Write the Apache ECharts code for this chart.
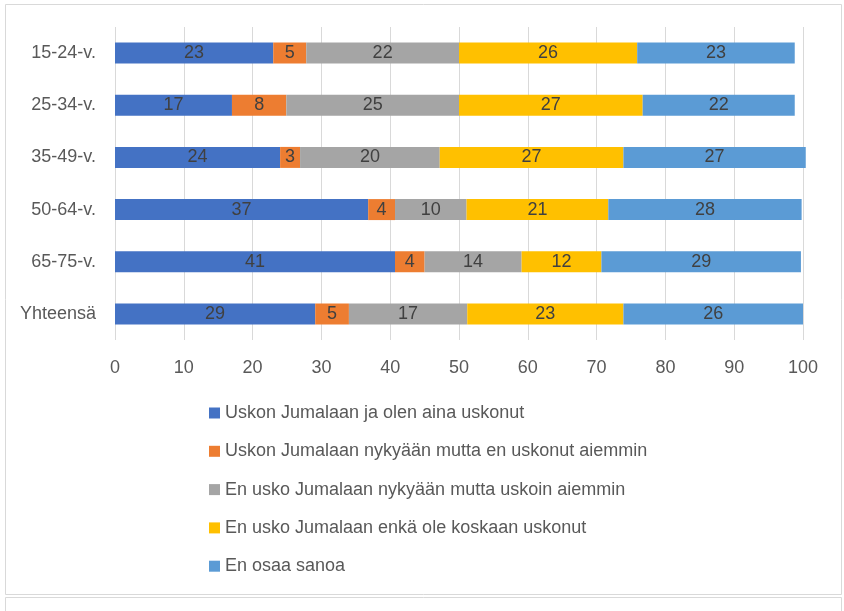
<!DOCTYPE html>
<html>
<head>
<meta charset="utf-8">
<script src="https://cdn.jsdelivr.net/npm/echarts@6/dist/echarts.min.js"></script>
<style>html,body{margin:0;padding:0;background:#fff;}#c{width:844px;height:611px;}</style>
</head>
<body>
<div id="c"></div>
<script>
var categories = ['15-24-v.', '25-34-v.', '35-49-v.', '50-64-v.', '65-75-v.', 'Yhteensä'];
var seriesNames = [
  'Uskon Jumalaan ja olen aina uskonut',
  'Uskon Jumalaan nykyään mutta en uskonut aiemmin',
  'En usko Jumalaan nykyään mutta uskoin aiemmin',
  'En usko Jumalaan enkä ole koskaan uskonut',
  'En osaa sanoa'
];
var alwaysBelieved = [23.0, 17.0, 24.0, 36.8, 40.7, 29.1];
var believeNow = [4.8, 7.9, 2.9, 3.9, 4.3, 4.9];
var believedBefore = [22.2, 25.1, 20.3, 10.4, 14.1, 17.2];
var neverBelieved = [25.9, 26.7, 26.7, 20.6, 11.6, 22.7];
var cannotSay = [22.9, 22.1, 26.5, 28.1, 29.0, 26.1];
var xTicks = [0, 10, 20, 30, 40, 50, 60, 70, 80, 90, 100];
var colors = ['#4472C4', '#ED7D31', '#A5A5A5', '#FFC000', '#5B9BD5'];

var values = [alwaysBelieved, believeNow, believedBefore, neverBelieved, cannotSay];
var FONT = 'Liberation Sans';
var chart = echarts.init(document.getElementById('c'), null, {renderer: 'canvas'});
chart.setOption({
  animation: false,
  backgroundColor: '#fff',
  textStyle: {fontFamily: FONT},
  grid: {left: 115, right: 41, top: 27, bottom: 271, containLabel: false},
  xAxis: {
    type: 'value', min: xTicks[0], max: xTicks[xTicks.length - 1], interval: 10,
    axisLine: {show: false}, axisTick: {show: false},
    axisLabel: {color: '#595959', fontSize: 18, fontFamily: FONT, margin: 19},
    splitLine: {show: true, lineStyle: {color: '#D9D9D9', width: 1}}
  },
  yAxis: {
    type: 'category', data: categories, inverse: true,
    axisLine: {show: false}, axisTick: {show: false},
    axisLabel: {color: '#595959', fontSize: 18, fontFamily: FONT, margin: 19}
  },
  legend: {
    orient: 'vertical', left: 204, top: 399,
    itemWidth: 11, itemHeight: 11, itemGap: 20.3,
    icon: 'rect',
    textStyle: {color: '#595959', fontSize: 18, fontFamily: FONT, lineHeight: 18},
    data: seriesNames
  },
  graphic: [
    {type: 'rect', shape: {x: 5.5, y: 4.5, width: 836, height: 590}, style: {fill: 'none', stroke: '#D9D9D9', lineWidth: 1}, silent: true},
    {type: 'line', shape: {x1: 5.5, y1: 597.5, x2: 841.5, y2: 597.5}, style: {stroke: '#D9D9D9', lineWidth: 1}, silent: true},
    {type: 'line', shape: {x1: 5.5, y1: 597.5, x2: 5.5, y2: 611}, style: {stroke: '#D9D9D9', lineWidth: 1}, silent: true},
    {type: 'line', shape: {x1: 841.5, y1: 597.5, x2: 841.5, y2: 611}, style: {stroke: '#D9D9D9', lineWidth: 1}, silent: true}
  ],
  series: seriesNames.map(function (n, i) {
    return {
      name: n, type: 'bar', stack: 'total', data: values[i],
      barWidth: 21, clip: false,
      itemStyle: {color: colors[i]},
      label: {show: true, position: 'inside', color: '#404040', fontSize: 18, fontFamily: FONT,
        formatter: function (p) { return Math.round(p.value); }}
    };
  })
});
</script>
</body>
</html>
